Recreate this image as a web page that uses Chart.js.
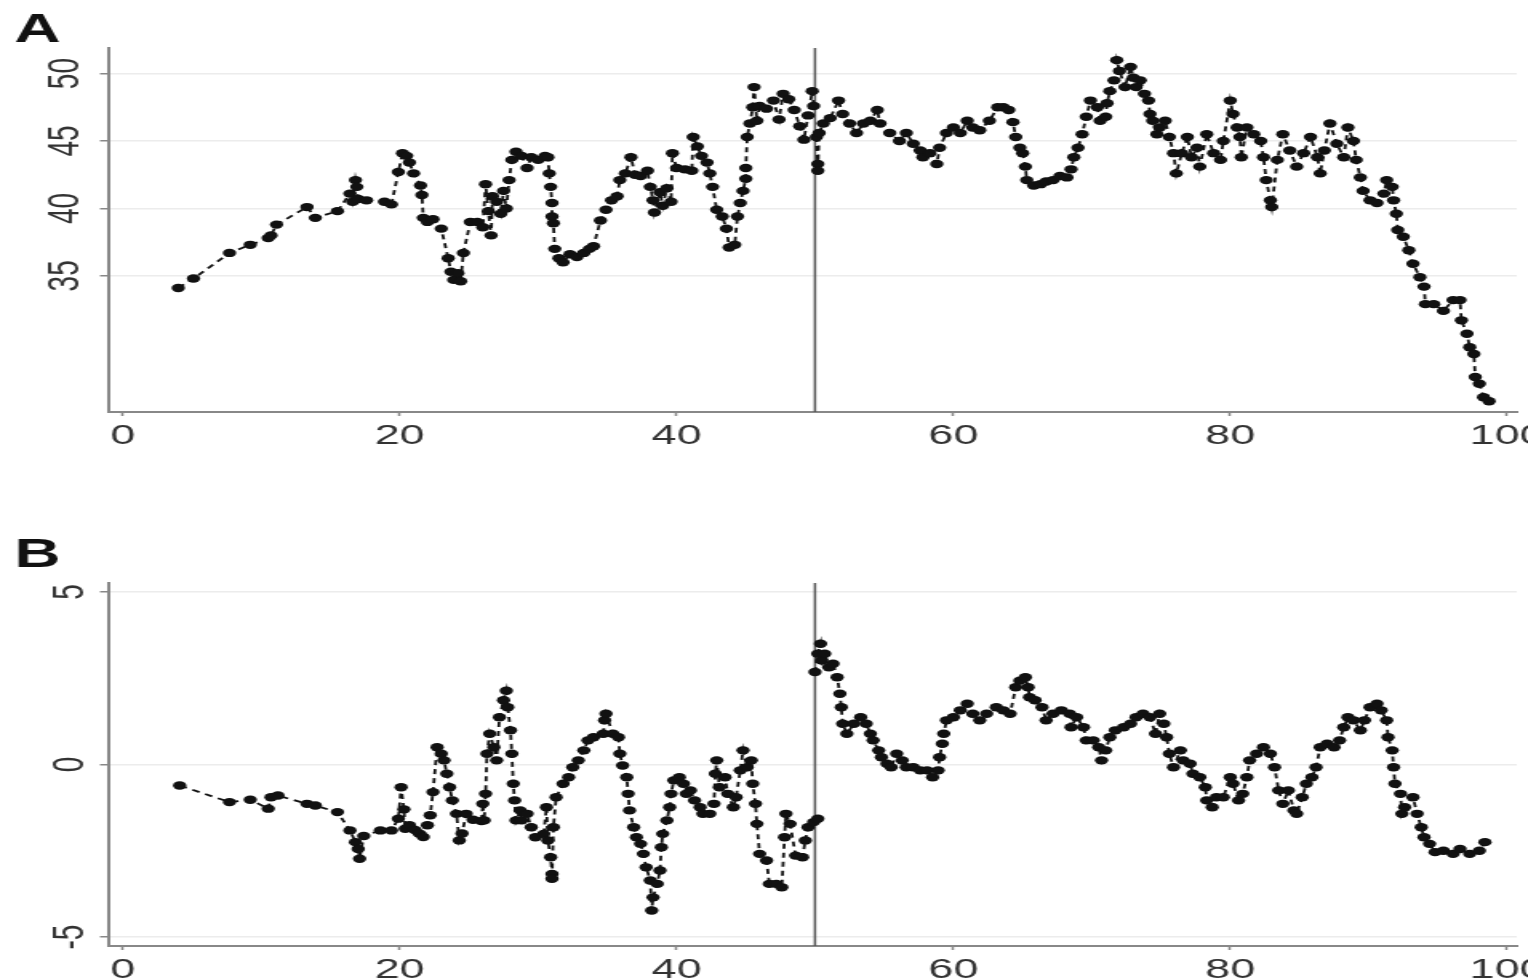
<!DOCTYPE html>
<html>
  <head>
    <title>Panels A and B</title>
    <script src="https://cdn.jsdelivr.net/npm/chart.js"></script>
    <style>
      body {
        margin: 0;
        background: #ffffff;
        overflow: hidden;
      }
      /* the source figure is stretched sideways, so the canvases are too */
      .panel {
        width: 955px;
        transform: scale(1.6, 1);
        transform-origin: 0 0;
      }
      canvas {
        display: block;
      }
    </style>
  </head>
  <body>
    <div class="panel"><canvas id="chartA" width="955" height="490"></canvas></div>
    <div class="panel"><canvas id="chartB" width="955" height="489"></canvas></div>

    <script>
      // Panel A, left of the cutoff
      const xA1 = [4.0, 5.1, 7.7, 9.2, 10.5, 10.7, 11.1, 13.3, 13.9, 15.5, 16.4, 16.6, 16.8, 16.9, 17.0, 17.6, 18.9, 19.4,
        19.9, 20.2, 20.5, 20.7, 21.0, 21.5, 21.6, 21.7, 22.0, 22.4, 23.0, 23.5, 23.7, 23.9, 24.2, 24.4, 24.6, 25.1, 25.6,
        26.0, 26.2, 26.4, 26.6, 26.7, 27.0, 27.3, 27.5, 27.7, 27.9, 28.1, 28.4, 28.8, 29.2, 29.5, 30.0, 30.5, 30.7, 30.8,
        30.9, 31.0, 31.0, 31.1, 31.2, 31.5, 31.8, 32.3, 32.8, 33.3, 33.7, 34.0, 34.5, 34.9, 35.3, 35.7, 35.9, 36.3, 36.7,
        37.0, 37.4, 37.9, 38.1, 38.3, 38.4, 38.8, 39.0, 39.3, 39.6, 39.7, 40.0, 40.6, 41.1, 41.2, 41.5, 41.8, 42.2, 42.4,
        42.6, 42.9, 43.3, 43.6, 43.8, 44.2, 44.4, 44.6, 44.8, 45.0, 45.0, 45.1, 45.3, 45.5, 45.6, 45.8, 46.0, 46.5, 47.0,
        47.4, 47.7, 48.1, 48.5, 48.9, 49.2, 49.5, 49.8, 49.9];
      const yA1 = [34.1, 34.8, 36.7, 37.3, 37.8, 38.0, 38.8, 40.1, 39.3, 39.8, 41.1, 40.5, 42.1, 41.6, 40.7, 40.6, 40.5, 40.3,
        42.7, 44.1, 43.9, 43.4, 42.6, 41.7, 41.0, 39.3, 39.0, 39.2, 38.5, 36.3, 35.3, 34.7, 35.2, 34.6, 36.7, 39.0, 39.0,
        38.6, 41.8, 39.8, 38.0, 40.9, 40.5, 39.6, 41.3, 40.0, 42.1, 43.6, 44.2, 43.9, 43.0, 43.8, 43.6, 43.9, 43.8, 42.6,
        41.6, 40.4, 39.4, 38.9, 37.0, 36.3, 36.0, 36.6, 36.4, 36.7, 37.0, 37.2, 39.1, 39.9, 40.6, 40.9, 42.1, 42.6, 43.8,
        42.5, 42.4, 42.8, 41.6, 40.6, 39.7, 41.2, 40.2, 41.5, 40.5, 44.1, 43.0, 42.9, 42.8, 45.3, 44.6, 43.9, 43.4, 42.6,
        41.6, 39.9, 39.4, 38.5, 37.1, 37.3, 39.4, 40.4, 41.3, 42.2, 43.0, 45.3, 46.3, 47.5, 49.0, 46.5, 47.6, 47.4, 48.0,
        46.6, 48.5, 48.1, 47.3, 46.1, 45.1, 46.9, 48.7, 47.6];

      // Panel A, right of the cutoff
      const xA2 = [50.1, 50.2, 50.2, 50.3, 50.6, 51.1, 51.7, 52.0, 52.5, 53.0, 53.5, 54.0, 54.5, 54.7, 55.4, 56.1, 56.6,
        57.1, 57.6, 57.8, 58.3, 58.8, 59.0, 59.5, 60.0, 60.5, 61.0, 61.4, 61.9, 62.6, 63.2, 63.6, 64.0, 64.3, 64.5, 64.8,
        65.0, 65.2, 65.3, 65.8, 66.3, 66.7, 67.2, 67.7, 68.2, 68.5, 68.7, 69.0, 69.3, 69.6, 69.9, 70.4, 70.6, 71.0, 71.1,
        71.3, 71.6, 71.8, 72.0, 72.4, 72.8, 73.0, 73.2, 73.5, 73.8, 74.1, 74.2, 74.4, 74.7, 74.9, 75.3, 75.6, 75.9, 76.1,
        76.5, 76.9, 77.2, 77.6, 77.8, 78.3, 78.8, 79.3, 79.5, 80.0, 80.2, 80.5, 80.7, 80.8, 81.2, 81.7, 82.2, 82.4, 82.6,
        82.9, 83.0, 83.4, 83.8, 84.3, 84.8, 85.3, 85.8, 86.3, 86.5, 86.8, 87.2, 87.7, 88.2, 88.5, 88.9, 89.1, 89.4, 89.6,
        90.1, 90.6, 91.1, 91.3, 91.7, 91.8, 92.0, 92.1, 92.5, 92.9, 93.2, 93.7, 94.0, 94.1, 94.7, 95.4, 96.1, 96.6, 96.7,
        97.1, 97.3, 97.6, 97.7, 98.0, 98.3, 98.7];
      const yA2 = [45.3, 43.3, 42.8, 45.6, 46.3, 46.7, 48.0, 47.0, 46.3, 45.6, 46.3, 46.5, 47.3, 46.3, 45.6, 45.0, 45.6,
        44.8, 44.3, 43.8, 44.1, 43.3, 44.5, 45.6, 46.0, 45.6, 46.5, 46.0, 45.8, 46.5, 47.5, 47.5, 47.3, 46.4, 45.3, 44.5,
        44.1, 43.1, 42.1, 41.7, 41.8, 42.0, 42.1, 42.4, 42.3, 42.9, 43.8, 44.5, 45.5, 46.8, 48.0, 47.5, 46.5, 46.8, 47.8,
        48.7, 49.5, 51.0, 50.2, 49.0, 50.5, 49.7, 49.0, 49.5, 48.5, 48.0, 47.0, 46.5, 45.5, 46.0, 46.5, 45.3, 44.1, 42.6,
        44.1, 45.3, 43.8, 44.5, 43.1, 45.5, 44.1, 43.6, 45.0, 48.0, 47.0, 46.0, 45.3, 43.8, 46.0, 45.5, 45.0, 43.8, 42.1,
        40.6, 40.1, 43.6, 45.5, 44.3, 43.1, 44.1, 45.3, 43.8, 42.6, 44.3, 46.3, 44.8, 43.8, 46.0, 45.0, 43.6, 42.3, 41.3,
        40.6, 40.4, 41.1, 42.1, 41.6, 40.6, 39.6, 38.4, 37.9, 36.9, 35.9, 34.9, 34.2, 32.9, 32.9, 32.4, 33.2, 33.2, 31.7,
        30.7, 29.7, 29.2, 27.5, 27.0, 26.0, 25.7];

      // Panel B, left of the cutoff
      const xB1 = [4.1, 7.7, 9.2, 10.5, 10.7, 11.2, 13.3, 13.9, 15.5, 16.4, 16.8, 17.0, 17.1, 17.4, 18.6, 19.4, 19.9, 20.1,
        20.3, 20.4, 20.7, 21.1, 21.4, 21.7, 22.0, 22.2, 22.4, 22.7, 23.0, 23.2, 23.4, 23.6, 23.8, 24.1, 24.3, 24.5, 24.8,
        25.3, 25.9, 26.0, 26.1, 26.2, 26.3, 26.5, 26.8, 27.0, 27.2, 27.5, 27.7, 27.8, 28.0, 28.1, 28.2, 28.3, 28.4, 28.7,
        28.8, 29.2, 29.5, 29.8, 30.4, 30.6, 30.7, 30.9, 31.0, 31.0, 31.1, 31.3, 31.8, 32.2, 32.5, 32.9, 33.3, 33.6, 34.0,
        34.7, 34.8, 34.9, 35.4, 35.8, 35.9, 36.1, 36.4, 36.5, 36.6, 36.9, 37.1, 37.4, 37.6, 37.8, 38.1, 38.2, 38.3, 38.6,
        38.8, 38.9, 39.0, 39.3, 39.5, 39.6, 39.8, 40.2, 40.5, 40.7, 41.0, 41.3, 41.7, 41.9, 42.4, 42.7, 42.8, 42.9, 43.1,
        43.5, 43.7, 44.1, 44.3, 44.6, 44.8, 45.1, 45.4, 45.5, 45.7, 45.8, 46.0, 46.5, 46.7, 47.2, 47.6, 47.8, 47.9, 48.2,
        48.6, 49.1, 49.3, 49.5, 49.9, 50.2];
      const yB1 = [-0.61, -1.09, -1.02, -1.28, -0.95, -0.90, -1.14, -1.19, -1.38, -1.91, -2.25, -2.45, -2.73, -2.07, -1.91,
        -1.91, -1.57, -0.66, -1.30, -1.86, -1.76, -1.90, -2.00, -2.10, -1.76, -1.47, -0.80, 0.50, 0.31, 0.12, -0.27, -0.66,
        -1.04, -1.43, -2.20, -2.00, -1.43, -1.60, -1.64, -1.14, -1.62, -0.85, 0.31, 0.89, 0.50, 0.12, 1.37, 1.86, 2.14, 1.66,
        0.99, 0.31, -0.56, -1.04, -1.62, -1.33, -1.62, -1.43, -1.82, -2.11, -2.01, -1.24, -2.20, -2.69, -3.17, -3.31, -1.82,
        -0.95, -0.56, -0.37, -0.08, 0.12, 0.41, 0.70, 0.79, 0.89, 1.28, 1.47, 0.89, 0.79, 0.31, -0.03, -0.37, -0.85, -1.33,
        -1.82, -2.11, -2.30, -2.59, -2.98, -3.36, -4.23, -3.85, -3.46, -3.07, -2.40, -2.01, -1.62, -1.24, -0.85, -0.46, -0.37,
        -0.56, -0.85, -0.75, -1.04, -1.24, -1.43, -1.43, -1.14, -0.27, 0.12, -0.66, -0.37, -0.85, -1.24, -0.95, -0.17, 0.41,
        -0.08, 0.12, -0.56, -1.14, -1.72, -2.59, -2.78, -3.46, -3.46, -3.56, -2.11, -1.43, -1.72, -2.64, -2.69, -2.20, -1.82,
        -1.67, -1.57];

      // Panel B, right of the cutoff
      const xB2 = [50.0, 50.2, 50.4, 50.5, 50.7, 51.0, 51.3, 51.6, 51.8, 51.9, 52.0, 52.3, 52.8, 53.3, 53.7, 54.0, 54.2,
        54.6, 54.8, 55.2, 55.5, 55.9, 56.3, 56.6, 57.1, 57.6, 58.1, 58.5, 58.9, 59.0, 59.2, 59.3, 59.5, 60.0, 60.5, 61.0,
        61.4, 61.9, 62.4, 63.1, 63.6, 64.1, 64.5, 64.8, 65.2, 65.4, 65.5, 65.9, 66.4, 66.7, 67.2, 67.8, 68.4, 68.5, 68.9,
        69.4, 69.6, 70.1, 70.5, 70.7, 71.0, 71.3, 71.7, 72.3, 72.8, 73.2, 73.7, 74.2, 74.6, 74.9, 75.2, 75.4, 75.6, 75.9,
        76.4, 76.6, 77.1, 77.3, 77.8, 78.2, 78.3, 78.7, 79.0, 79.5, 80.0, 80.2, 80.6, 80.9, 81.2, 81.4, 81.9, 82.4, 82.9,
        83.2, 83.5, 83.8, 84.2, 84.6, 84.8, 85.2, 85.5, 85.9, 86.2, 86.5, 87.0, 87.5, 87.9, 88.2, 88.5, 88.9, 89.4, 89.7,
        90.1, 90.6, 90.9, 91.3, 91.4, 91.7, 91.8, 91.9, 92.3, 92.4, 92.6, 93.2, 93.5, 93.8, 94.0, 94.4, 94.8, 95.4, 96.1,
        96.6, 97.3, 98.0, 98.4];
      const yB2 = [2.68, 3.21, 3.50, 3.01, 3.21, 2.82, 2.92, 2.53, 2.05, 1.66, 1.18, 0.89, 1.18, 1.37, 1.18, 0.89, 0.70,
        0.41, 0.21, 0.02, -0.08, 0.31, 0.12, -0.08, -0.08, -0.17, -0.17, -0.37, -0.17, 0.21, 0.60, 0.89, 1.28, 1.37, 1.57,
        1.76, 1.47, 1.28, 1.47, 1.66, 1.57, 1.47, 2.24, 2.43, 2.53, 2.24, 1.95, 1.86, 1.66, 1.28, 1.47, 1.57, 1.47, 1.08,
        1.37, 1.08, 0.70, 0.70, 0.50, 0.12, 0.41, 0.79, 0.99, 1.08, 1.18, 1.37, 1.47, 1.37, 0.89, 1.47, 1.18, 0.79, 0.31,
        -0.08, 0.41, 0.12, 0.02, -0.27, -0.37, -0.66, -1.04, -1.24, -0.95, -0.95, -0.37, -0.56, -1.04, -0.85, -0.37, 0.12,
        0.31, 0.50, 0.31, -0.08, -0.75, -1.14, -0.75, -1.33, -1.43, -0.95, -0.56, -0.37, -0.08, 0.50, 0.60, 0.50, 0.70,
        1.08, 1.37, 1.28, 0.99, 1.28, 1.66, 1.76, 1.57, 1.28, 0.79, 0.41, -0.08, -0.56, -0.85, -1.43, -1.24, -0.95, -1.43,
        -1.82, -2.11, -2.30, -2.54, -2.50, -2.59, -2.45, -2.59, -2.50, -2.25];

      // axes
      const cutoff = 50;
      const xTicks = [0, 20, 40, 60, 80, 100];
      const yTicksA = [35, 40, 45, 50];
      const yTicksB = [-5, 0, 5];

      Chart.defaults.font.family = "'Liberation Sans', Arial, Helvetica, sans-serif";

      function series(xs, ys) {
        return {
          data: xs.map((x, i) => ({ x: x, y: ys[i] })),
          showLine: true,
          borderColor: "#111111",
          borderWidth: 1.8,
          borderDash: [5, 4],
          pointRadius: 4.2,
          pointBackgroundColor: "#111111",
          pointBorderWidth: 0,
          order: 1,
        };
      }

      function drawPanel(id, letter, left, right, yMin, yMax, yTicks, titlePadding, xAxisHeight) {
        new Chart(document.getElementById(id), {
          type: "scatter",
          data: {
            datasets: [
              left,
              right,
              {
                // vertical line at the cutoff
                data: [{ x: cutoff, y: yMin }, { x: cutoff, y: yMax }],
                showLine: true,
                pointRadius: 0,
                borderColor: "#555555",
                borderWidth: 1.5,
                order: 3,
              },
            ],
          },
          options: {
            responsive: false,
            animation: false,
            devicePixelRatio: 1,
            layout: { padding: { left: 9, right: 7, top: 0, bottom: 0 } },
            plugins: {
              legend: { display: false },
              tooltip: { enabled: false },
              title: {
                display: true,
                text: letter,
                align: "start",
                color: "#111111",
                font: { size: 40, weight: "bold", lineHeight: 0.85 },
                padding: titlePadding,
              },
            },
            scales: {
              x: {
                type: "linear",
                min: -1.08,
                max: 100.7,
                afterBuildTicks: (s) => { s.ticks = xTicks.map((v) => ({ value: v })); },
                afterFit: (s) => { s.height = xAxisHeight; s.paddingLeft = 0; s.paddingRight = 0; },
                grid: { drawOnChartArea: false, tickLength: 4, tickColor: "#888888", tickWidth: 1.5 },
                border: { color: "#888888", width: 2 },
                ticks: { font: { size: 28 }, color: "#333333", padding: 3, maxRotation: 0 },
              },
              y: {
                min: yMin,
                max: yMax,
                afterBuildTicks: (s) => { s.ticks = yTicks.map((v) => ({ value: v })); },
                afterFit: (s) => { s.width = 58.5; },
                grid: { color: "#ececec", lineWidth: 1.5, tickLength: 5, tickColor: "#888888", tickWidth: 1.5 },
                border: { color: "#888888", width: 2 },
                ticks: { font: { size: 28 }, color: "#333333", minRotation: 90, maxRotation: 90, crossAlign: "center", padding: 6 },
              },
            },
          },
        });
      }

      drawPanel("chartA", "A", series(xA1, yA1), series(xA2, yA2), 24.9, 51.9, yTicksA, { top: 14, bottom: 0 }, 78);
      drawPanel("chartB", "B", series(xB1, yB1), series(xB2, yB2), -5.26, 5.26, yTicksB, { top: 48.5, bottom: 10.5 }, 33);
    </script>
  </body>
</html>
